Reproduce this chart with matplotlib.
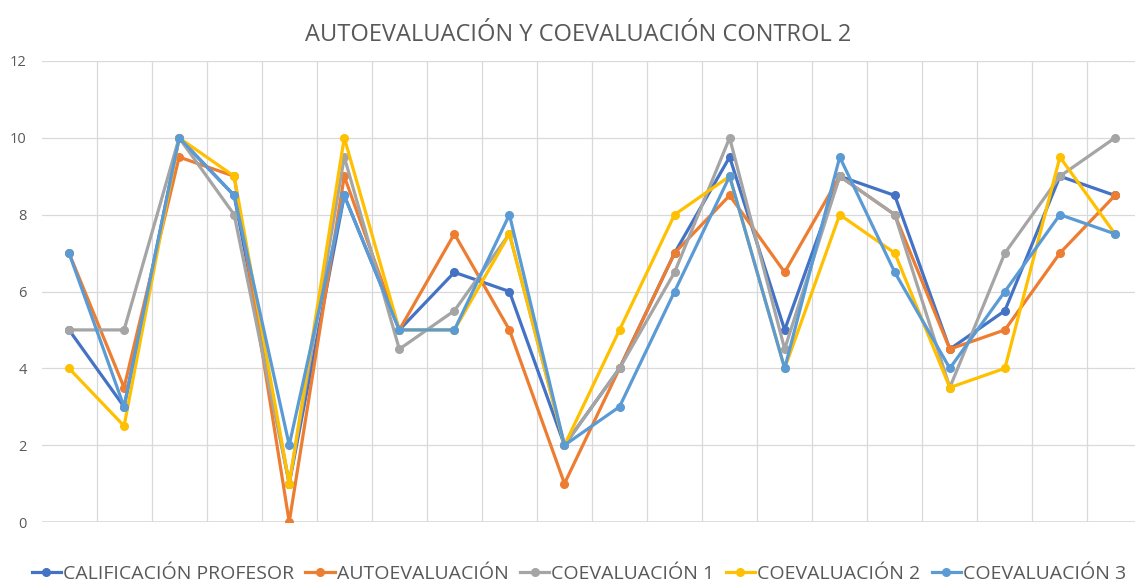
import matplotlib.pyplot as plt
import numpy as np

# Datos (20 alumnos)
alumnos = list(range(1, 21))
profesor = [5, 3, 10, 8.5, 1, 8.5, 5, 6.5, 6, 2, 4, 7, 9.5, 5, 9, 8.5, 4.5, 5.5, 9, 8.5]
autoevaluacion = [7, 3.5, 9.5, 9, 0, 9, 5, 7.5, 5, 1, 4, 7, 8.5, 6.5, 9, 8, 4.5, 5, 7, 8.5]
coevaluacion1 = [5, 5, 10, 8, 1, 9.5, 4.5, 5.5, 7.5, 2, 4, 6.5, 10, 4.5, 9, 8, 3.5, 7, 9, 10]
coevaluacion2 = [4, 2.5, 10, 9, 1, 10, 5, 5, 7.5, 2, 5, 8, 9, 4, 8, 7, 3.5, 4, 9.5, 7.5]
coevaluacion3 = [7, 3, 10, 8.5, 2, 8.5, 5, 5, 8, 2, 3, 6, 9, 4, 9.5, 6.5, 4, 6, 8, 7.5]

series = [
    ("CALIFICACIÓN PROFESOR", profesor, "#4472C4"),
    ("AUTOEVALUACIÓN", autoevaluacion, "#ED7D31"),
    ("COEVALUACIÓN 1", coevaluacion1, "#A5A5A5"),
    ("COEVALUACIÓN 2", coevaluacion2, "#FFC000"),
    ("COEVALUACIÓN 3", coevaluacion3, "#5B9BD5"),
]

plt.rcParams['font.family'] = ['Open Sans', 'DejaVu Sans']
texto = "#595959"
rejilla = "#D9D9D9"

fig = plt.figure(figsize=(11.35, 5.85), dpi=100)
# área de trazado colocada como en la captura
ax = fig.add_axes([41.5 / 1135, 63 / 585, (1135 - 41.5) / 1135, 461 / 585])

for nombre, valores, color in series:
    ax.plot(alumnos, valores, color=color, lw=2.3, marker='o', ms=5.5,
            label=nombre, solid_joinstyle='round')

ax.set_ylim(0, 12)
ax.set_xlim(0.5, 0.5 + (1135 - 41.5) / 55.05)
ax.set_yticks(np.arange(0, 13, 2))
ax.set_xticks(np.arange(1.5, 20.5, 1))
ax.set_xticklabels([])
ax.tick_params(axis='x', length=0)
ax.tick_params(axis='y', length=0, labelsize=10.5, labelcolor=texto, pad=10.5)
ax.grid(True, color=rejilla, lw=0.9)
ax.set_axisbelow(True)
for lado in ax.spines.values():
    lado.set_visible(False)
ax.axhline(0, color=rejilla, lw=1.2, zorder=0)

fig.text(0.509, 1 - 35 / 585, "AUTOEVALUACIÓN Y COEVALUACIÓN CONTROL 2",
         ha='center', va='center', fontsize=17, color=texto)

leg = fig.legend(loc='center', bbox_to_anchor=(0.51, 1 - 574 / 585), ncol=5,
                 frameon=False, fontsize=14, handlelength=1.5, handletextpad=0.1,
                 columnspacing=0.6, labelcolor=texto, borderpad=0)

fig.savefig("out.png", dpi=100, facecolor='white')
